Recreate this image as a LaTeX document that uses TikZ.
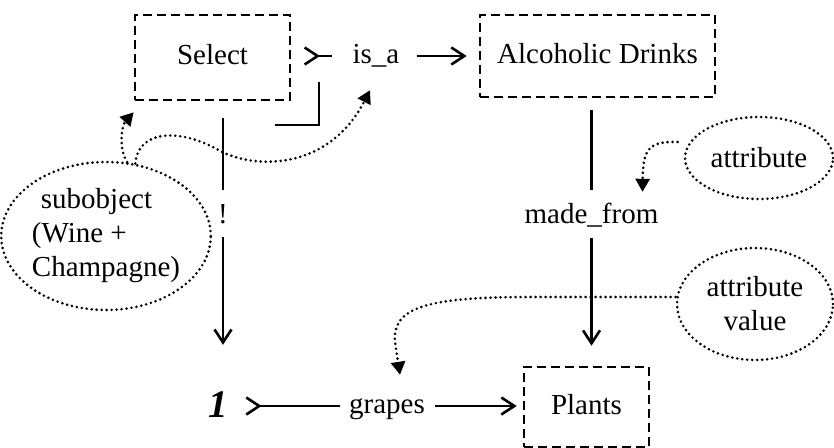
\documentclass[tikz,border=0pt]{standalone}
\usepackage{fontspec}
\setmainfont{Liberation Serif}
\usetikzlibrary{arrows.meta,shapes.geometric}
\begin{document}
\begin{tikzpicture}[x=1pt,y=-1pt,
  every node/.style={font=\fontsize{29}{34}\selectfont, inner sep=0pt},
  lbl/.style={text height=20pt, text depth=6pt},
  dashbox/.style={draw, line width=2.6pt, dash pattern=on 9pt off 5pt,
                  text height=20pt, text depth=6pt},
  oval/.style={ellipse, draw, line width=2.9pt, dash pattern=on 0pt off 5pt, line cap=round},
  solidline/.style={line width=2.6pt},
  dotline/.style={line width=2.9pt, dash pattern=on 0pt off 5pt, line cap=round},
  opentip/.style={-{Straight Barb[length=13pt,width=17pt]}},
  chevstart/.style={{Straight Barb[reversed,length=13pt,width=17pt]}-},
  filledtip/.style={-{Triangle[length=13pt,width=14pt]}}]
\useasboundingbox (0,0) rectangle (834,447);

% concept boxes
\node[dashbox, minimum width=155pt, minimum height=85pt] (select) at (212.5,57.5) {Select};
\node[dashbox, minimum width=235pt, minimum height=82pt] (alc) at (597.5,56) {Alcoholic Drinks};
\node[dashbox, minimum width=125pt, minimum height=80pt] (plants) at (586.5,407) {Plants};

% relation labels
\node[lbl] (isa) at (376,56) {is\_a};
\node[lbl] (made) at (591.5,216) {made\_from};
\node[lbl] (bang) at (223,216) {!};
\node[lbl, font=\fontsize{39}{42}\selectfont] (one) at (218,410) {\textbf{\textit{1}}};
\node[lbl] (grapes) at (387,406) {grapes};

% annotation ovals
\node[oval, minimum width=148pt, minimum height=82pt] (attr) at (759,158) {attribute};
\node[oval, minimum width=156pt, minimum height=112pt, align=center] (attrval) at (755,304) {attribute\\value};
\node[oval, minimum width=192pt, minimum height=148pt, align=left] (sub) at (106,236)
  {\hspace{9pt}subobject\\(Wine +\\Champagne)};

% Select -- is_a --> Alcoholic Drinks
\draw[solidline, chevstart, shorten <=12pt, shorten >=20pt] (select.east |- isa.west) -- (isa.west);
\draw[solidline, opentip, shorten <=17pt, shorten >=12pt] (isa.east) -- (alc.west |- isa.east);

% corner mark beside Select
\draw[solidline] (319,82) -- (319,125) -- (275,125);

% Select -- ! --> 1
\draw[solidline, shorten <=17pt, shorten >=13pt] (bang |- select.south) -- (bang.north);
\draw[solidline, opentip, shorten <=8pt, shorten >=52pt] (bang.south) -- (bang |- one.north);

% Alcoholic Drinks -- made_from --> Plants
\draw[solidline, shorten <=12pt, shorten >=13pt] (made |- alc.south) -- (made.north);
\draw[solidline, opentip, shorten <=9pt, shorten >=20pt] (made.south) -- (made |- plants.north);

% 1 -- grapes --> Plants
\draw[solidline, chevstart, shorten <=17pt, shorten >=9pt] (one.east |- grapes.west) -- (grapes.west);
\draw[solidline, opentip, shorten <=10pt, shorten >=6pt] (grapes.east) -- (plants.west |- grapes.east);

% dotted annotation arrows
\draw[dotline, filledtip] ([shift={(-6pt,16pt)}]attr.west)
  .. controls (648,141) and (643,150) .. ([xshift=51pt,yshift=11pt]made.north);
\draw[dotline, filledtip] ([yshift=7pt]attrval.west) -- (530,297)
  .. controls (425,297) and (392,308) .. (395,342) -- ([shift={(13pt,18pt)}]grapes.north);
\draw[dotline, filledtip] (sub.74)
  .. controls (118,148) and (122,125) .. ([yshift=-11pt]select.south west);
\draw[dotline, filledtip] (sub.68)
  .. controls (138,130) and (180,127) .. (222,152)
  .. controls (260,170) and (330,168) .. ([shift={(-6pt,-21pt)}]isa.south);
\end{tikzpicture}
\end{document}
